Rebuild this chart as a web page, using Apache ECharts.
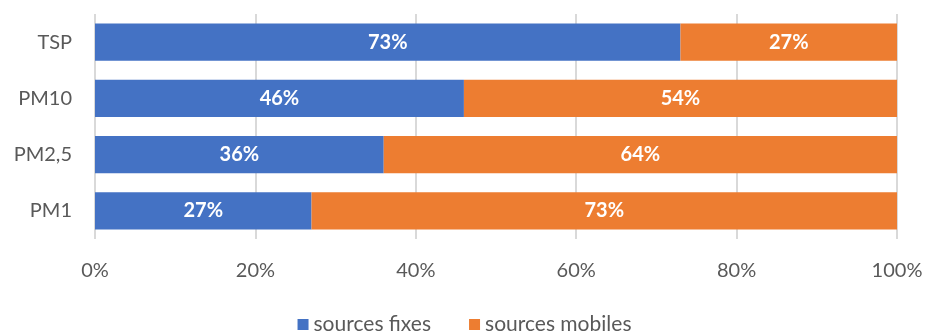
<!DOCTYPE html>
<html>
<head>
<meta charset="utf-8">
<script src="https://cdn.jsdelivr.net/npm/echarts@6/dist/echarts.min.js"></script>
<style>
  html, body { margin: 0; padding: 0; background: #ffffff; }
  #chart { width: 929px; height: 331px; }
</style>
</head>
<body>
<div id="chart"></div>
<script>
// Particle size classes, top to bottom
const categories = ['TSP', 'PM10', 'PM2,5', 'PM1'];
// Share of emissions (%) by source type
const fixedSources = [73, 46, 36, 27];
const mobileSources = [27, 54, 64, 73];
const seriesNames = ['sources fixes', 'sources mobiles'];

const font = 'Lato, "Open Sans", sans-serif';
const chart = echarts.init(document.getElementById('chart'));

const labelStyle = {
  show: true,
  position: 'inside',
  formatter: '{c}%',
  color: '#ffffff',
  fontWeight: 'bold',
  fontSize: 20,
  fontFamily: font
};

chart.setOption({
  animation: false,
  textStyle: { fontFamily: font },
  grid: { left: 95, right: 32, top: 14, bottom: 92, containLabel: false },
  legend: {
    top: 309,
    left: 'center',
    itemWidth: 11,
    itemHeight: 11,
    itemGap: 38,
    icon: 'rect',
    textStyle: { color: '#595959', fontSize: 21, fontFamily: font },
    data: seriesNames
  },
  xAxis: {
    type: 'value',
    min: 0,
    max: 100,
    interval: 20,
    axisLine: { show: false },
    axisTick: { show: false },
    axisLabel: { formatter: '{value}%', color: '#595959', fontSize: 20, margin: 22, fontFamily: font },
    splitLine: { show: true, lineStyle: { color: '#d9d9d9', width: 2 } }
  },
  yAxis: {
    type: 'category',
    inverse: true,
    data: categories,
    axisLine: { show: false },
    axisTick: { show: false },
    axisLabel: { color: '#595959', fontSize: 20, margin: 23, fontFamily: font }
  },
  series: [
    {
      name: seriesNames[0],
      type: 'bar',
      stack: 'total',
      barWidth: '66%',
      itemStyle: { color: '#4472C4' },
      label: labelStyle,
      data: fixedSources
    },
    {
      name: seriesNames[1],
      type: 'bar',
      stack: 'total',
      barWidth: '66%',
      itemStyle: { color: '#ED7D31' },
      label: labelStyle,
      data: mobileSources
    }
  ]
});
</script>
</body>
</html>
